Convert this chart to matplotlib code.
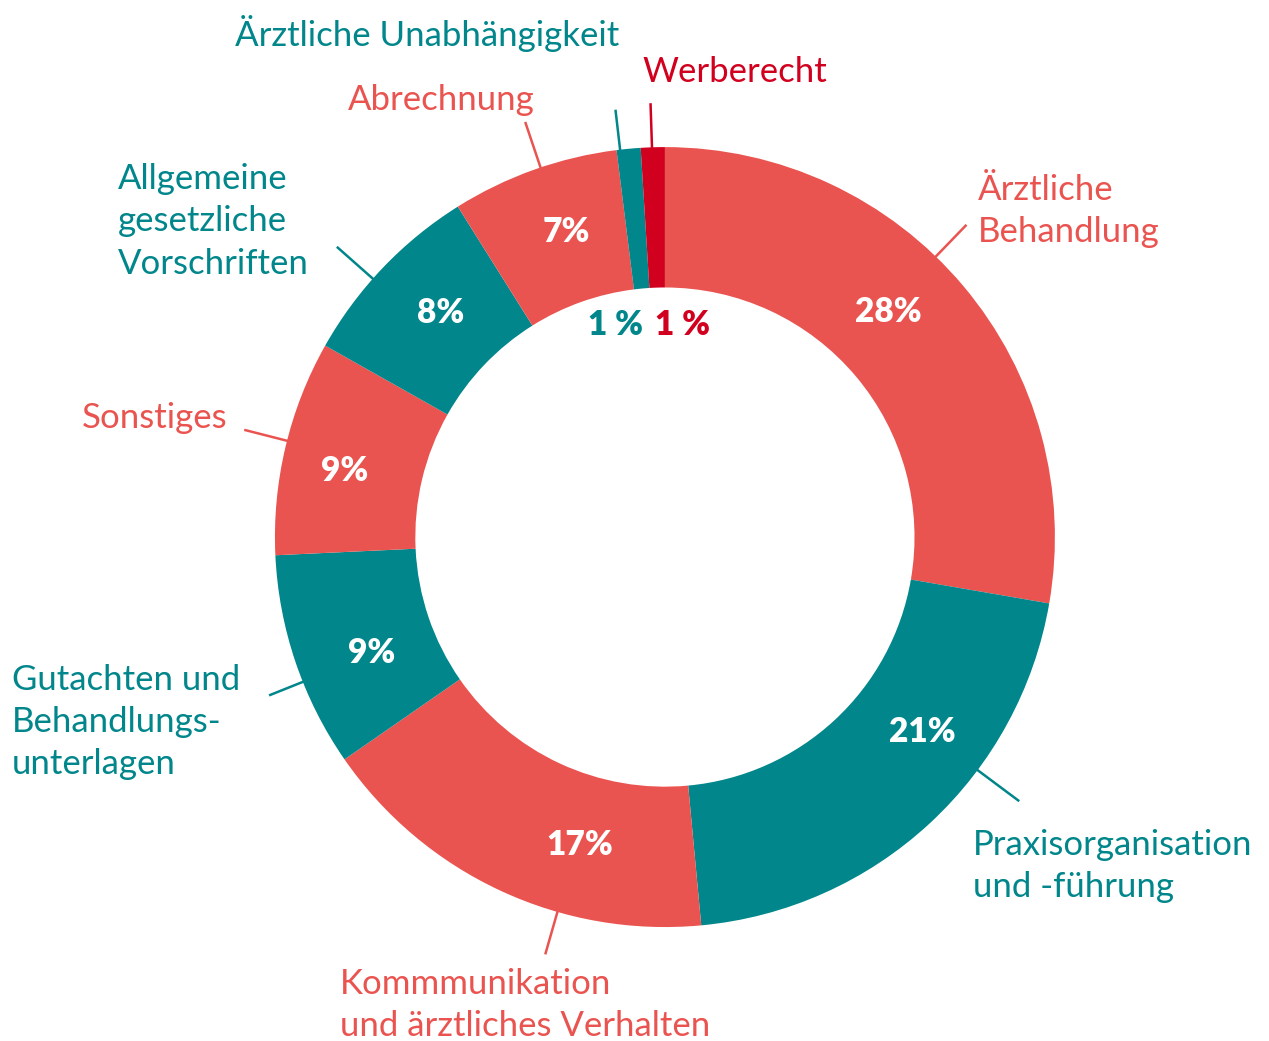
import numpy as np
import matplotlib.pyplot as plt

# Anteile der Themenbereiche (Prozent)
categories = ['Ärztliche\nBehandlung', 'Praxisorganisation\nund -führung',
              'Kommmunikation\nund ärztliches Verhalten', 'Gutachten und\nBehandlungs-\nunterlagen',
              'Sonstiges', 'Allgemeine\ngesetzliche\nVorschriften', 'Abrechnung',
              'Ärztliche Unabhängigkeit', 'Werberecht']
values = [28, 21, 17, 9, 9, 8, 7, 1, 1]
pct_labels = ['28%', '21%', '17%', '9%', '9%', '8%', '7%', '1 %', '1 %']

RED = '#EA5450'
TEAL = '#00868B'
DARKRED = '#D2001F'
colors = [RED, TEAL, RED, TEAL, RED, TEAL, RED, TEAL, DARKRED]

plt.rcParams['font.family'] = ['Lato', 'DejaVu Sans']

fig = plt.figure(figsize=(12.69, 10.41), dpi=100)
ax = fig.add_axes([0, 0, 1, 1])

ax.pie(values, colors=colors, startangle=90, counterclock=False, radius=1.0,
       wedgeprops=dict(width=0.36, linewidth=0))
ax.set_xlim(-1.705, 1.549)
ax.set_ylim(-1.292, 1.377)
ax.set_aspect('equal')
ax.axis('off')

# layout: percentage label positions
pct_pos = [(0.574, 0.577), (0.659, -0.50), (-0.218, -0.79), (-0.751, -0.297),
           (-0.821, 0.169), (-0.574, 0.574), (-0.254, 0.782), (-0.128, 0.544), (0.044, 0.544)]
for i, (lab, (px, py)) in enumerate(zip(pct_labels, pct_pos)):
    c = 'white' if i < 7 else colors[i]
    ax.text(px, py, lab, color=c, fontsize=24, fontweight='heavy', ha='center', va='center')

# layout: leader line angles / radii and text anchors
lead = [(46, 1.11), (-36.7, 1.13), (-106, 1.11), (-158.2, 1.09), (165.7, 1.11),
        (138.5, 1.12), (108.6, 1.12), (96.6, 1.10), (91.9, 1.11)]
text_pos = [(0.803, 0.836, 'left'), (0.790, -0.844, 'left'), (-0.833, -1.200, 'left'),
            (-1.674, -0.474, 'left'), (-1.123, 0.305, 'right'), (-1.403, 0.810, 'left'),
            (-0.574, 1.121, 'center'), (-0.610, 1.292, 'center'), (0.179, 1.192, 'center')]
for i, cat in enumerate(categories):
    a, r2 = lead[i]
    t = np.deg2rad(a)
    ax.plot([np.cos(t), r2 * np.cos(t)], [np.sin(t), r2 * np.sin(t)], color=colors[i], lw=1.8)
    tx, ty, ha = text_pos[i]
    ax.text(tx, ty, cat, color=colors[i], fontsize=25, ha=ha, va='center', linespacing=1.4)

fig.savefig('out.png', dpi=100)
